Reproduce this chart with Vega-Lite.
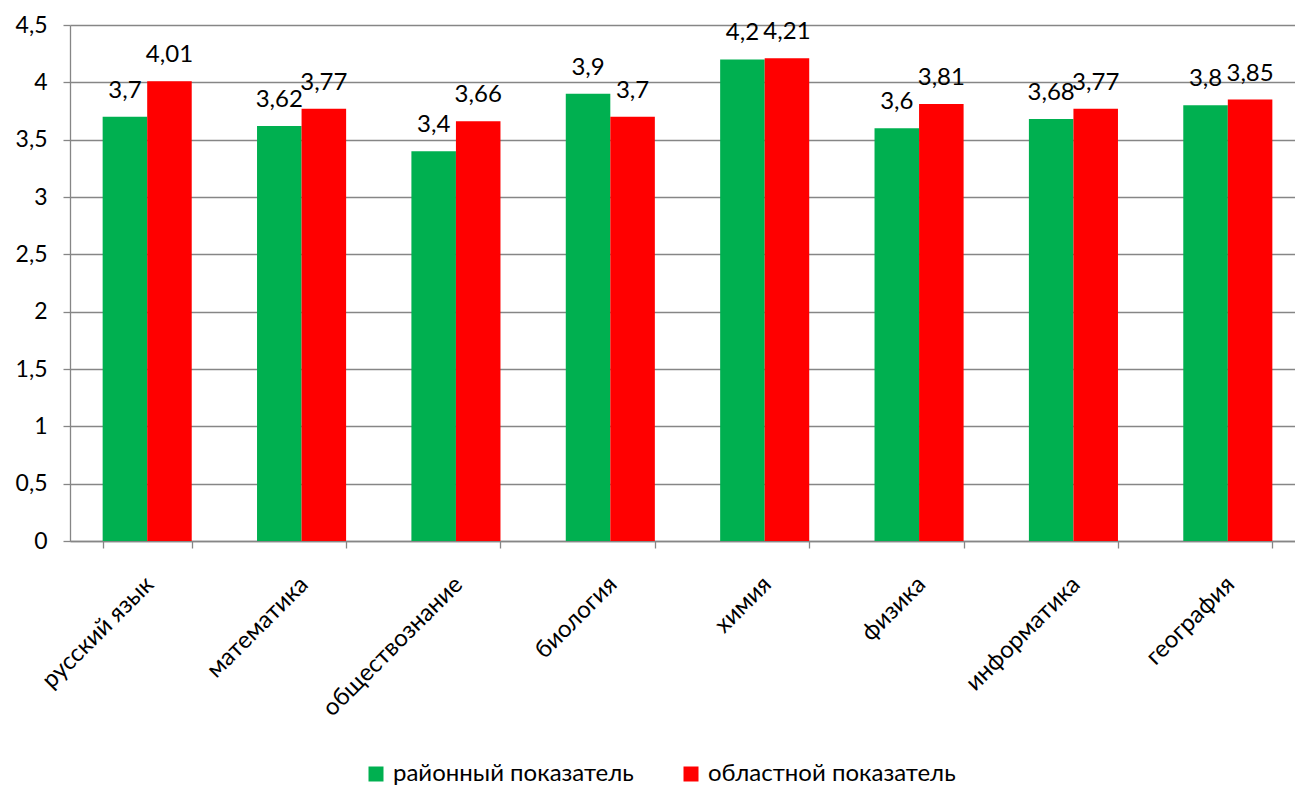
{
  "$schema": "https://vega.github.io/schema/vega-lite/v6.json",
  "width": 1235,
  "height": 516,
  "autosize": {"type": "none"},
  "padding": {"left": 70, "top": 25, "right": 0, "bottom": 246},
  "background": "white",
  "data": {
    "values": [
      {"subject": "русский язык", "series": "районный показатель", "value": 3.7},
      {"subject": "русский язык", "series": "областной показатель", "value": 4.01},
      {"subject": "математика", "series": "районный показатель", "value": 3.62},
      {"subject": "математика", "series": "областной показатель", "value": 3.77},
      {"subject": "обществознание", "series": "районный показатель", "value": 3.4},
      {"subject": "обществознание", "series": "областной показатель", "value": 3.66},
      {"subject": "биология", "series": "районный показатель", "value": 3.9},
      {"subject": "биология", "series": "областной показатель", "value": 3.7},
      {"subject": "химия", "series": "районный показатель", "value": 4.2},
      {"subject": "химия", "series": "областной показатель", "value": 4.21},
      {"subject": "физика", "series": "районный показатель", "value": 3.6},
      {"subject": "физика", "series": "областной показатель", "value": 3.81},
      {"subject": "информатика", "series": "районный показатель", "value": 3.68},
      {"subject": "информатика", "series": "областной показатель", "value": 3.77},
      {"subject": "география", "series": "районный показатель", "value": 3.8},
      {"subject": "география", "series": "областной показатель", "value": 3.85}
    ]
  },
  "encoding": {
    "x": {
      "field": "subject",
      "type": "nominal",
      "sort": null,
      "title": null,
      "scale": {"paddingInner": 0.423, "paddingOuter": 0.2115},
      "axis": {
        "labelAngle": -45,
        "labelAlign": "right",
        "labelBaseline": "top",
        "labelPadding": 24,
        "labelOffset": -6,
        "labelFontSize": 24,
        "labelLimit": 0,
        "tickBand": "extent",
        "tickSize": 7,
        "grid": false
      }
    },
    "xOffset": {
      "field": "series",
      "type": "nominal",
      "sort": ["районный показатель", "областной показатель"],
      "scale": {"paddingInner": 0, "paddingOuter": 0}
    },
    "y": {
      "field": "value",
      "type": "quantitative",
      "title": null,
      "scale": {"domain": [0, 4.5], "nice": false},
      "axis": {
        "values": [0, 0.5, 1, 1.5, 2, 2.5, 3, 3.5, 4, 4.5],
        "format": "~g",
        "tickSize": 7,
        "labelPadding": 16,
        "grid": true
      }
    }
  },
  "layer": [
    {
      "mark": {"type": "bar"},
      "encoding": {
        "color": {
          "field": "series",
          "type": "nominal",
          "title": null,
          "scale": {
            "domain": ["районный показатель", "областной показатель"],
            "range": ["#00b050", "#ff0000"]
          },
          "legend": {
            "orient": "none",
            "legendX": 294,
            "legendY": 737,
            "direction": "horizontal",
            "symbolType": "square",
            "symbolSize": 225,
            "symbolStrokeWidth": 0,
            "labelFontSize": 24,
            "labelLimit": 0,
            "columnPadding": 45,
            "labelOffset": 5
          }
        }
      }
    },
    {
      "mark": {"type": "text", "baseline": "alphabetic", "dy": -19, "fontSize": 24},
      "encoding": {
        "text": {"field": "value", "type": "quantitative", "format": "~r"}
      }
    }
  ],
  "config": {
    "locale": {
      "number": {"decimal": ",", "thousands": " ", "grouping": [3], "currency": ["", ""]}
    },
    "font": "Lato",
    "view": {"stroke": null},
    "text": {"font": "Lato", "color": "black"},
    "axis": {
      "domainColor": "#868686",
      "tickColor": "#868686",
      "gridColor": "#868686",
      "domainWidth": 1.3,
      "tickWidth": 1.3,
      "gridWidth": 1.3,
      "labelFont": "Lato",
      "labelFontSize": 23,
      "labelColor": "black"
    },
    "legend": {"labelFont": "Lato", "labelColor": "black"}
  }
}
